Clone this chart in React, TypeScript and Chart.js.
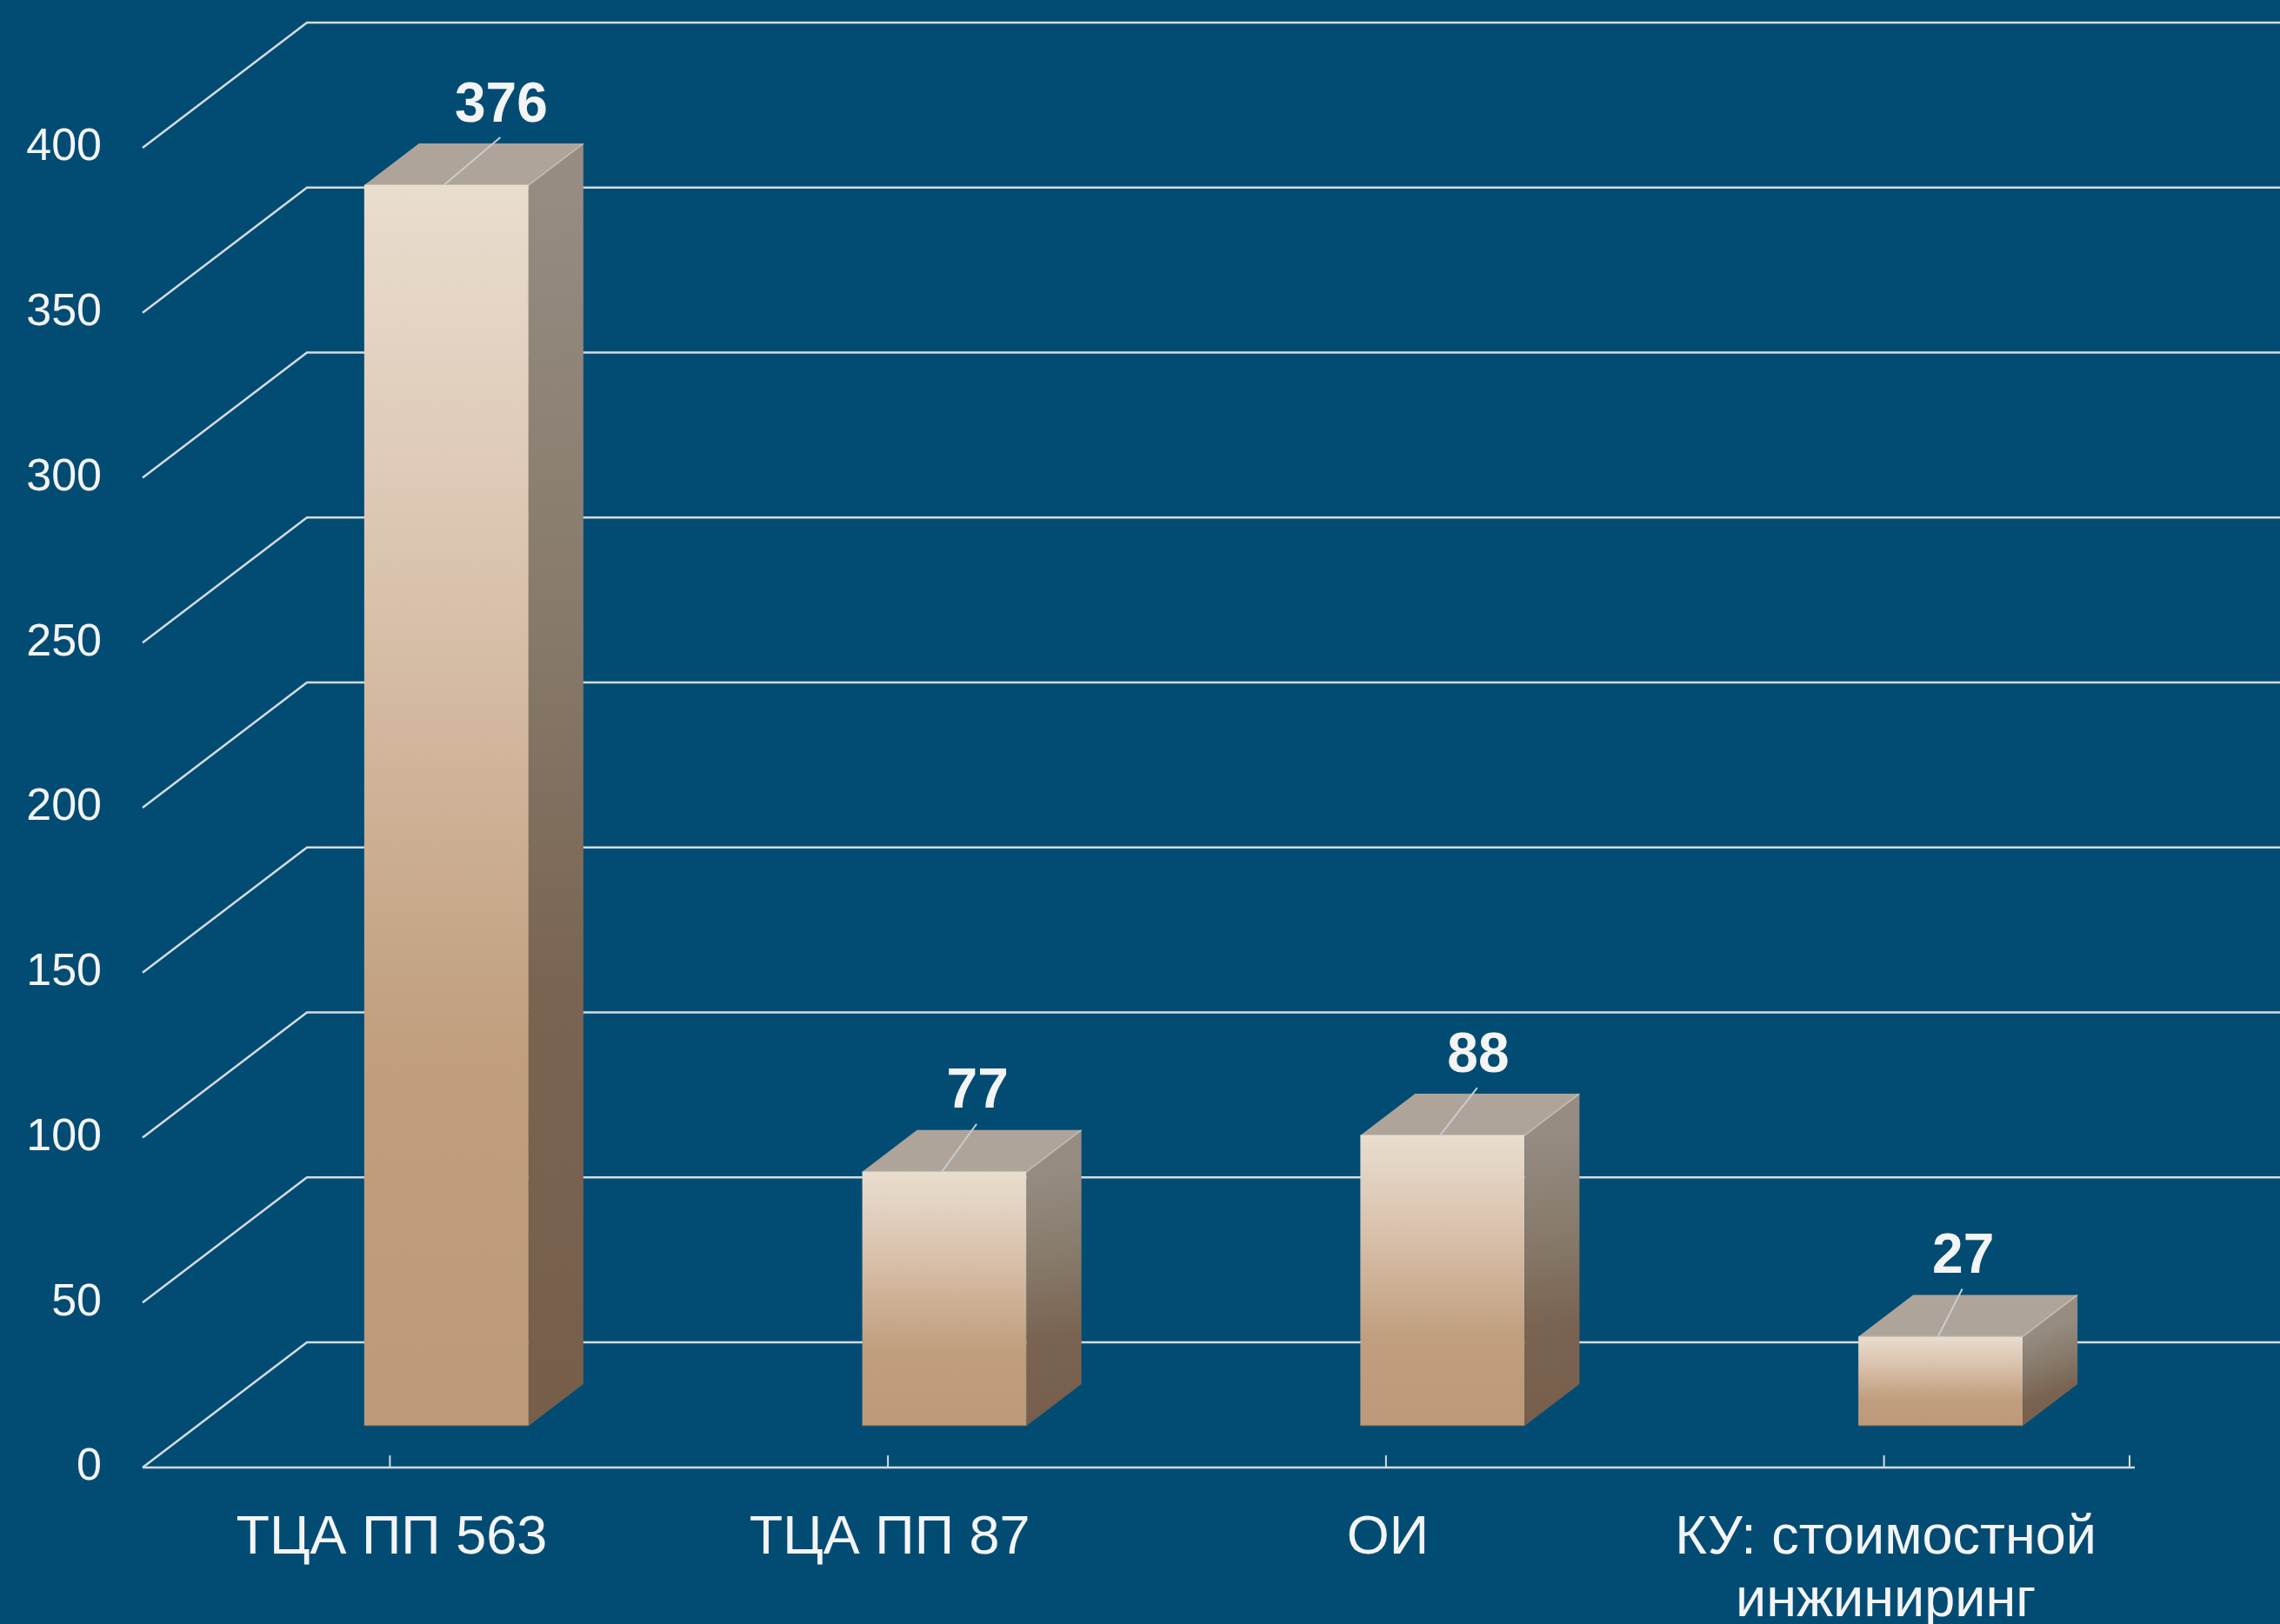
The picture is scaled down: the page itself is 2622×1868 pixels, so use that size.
import React, { useEffect, useRef } from 'react';
import { Chart, registerables } from 'chart.js';

Chart.register(...registerables);

// ---- data ----
const categories: (string | string[])[] = [
  'ТЦА ПП 563',
  'ТЦА ПП 87',
  'ОИ',
  ['КУ: стоимостной', 'инжиниринг'],
];
const values: number[] = [376, 77, 88, 27];
const yMin = 0;
const yMax = 400;
const yStep = 50;

// ---- layout / style ----
const WIDTH = 2622;
const HEIGHT = 1868;
const PLOT_LEFT = 164;
const PLOT_RIGHT = 2455;
const PLOT_TOP = 170;
const PLOT_BOTTOM = 1688;
const DEPTH_X = 189;
const DEPTH_Y = -144;
const BG = '#024c74';
const GRID = '#d6dbe0';
const TEXT = '#f4f4f4';
const FONT = "'Liberation Sans', Arial, Helvetica, sans-serif";
const LABEL_SHIFT = [63, 38, 41, 26];

const frontFill = (c: any) => {
  const chart = c.chart;
  const ys = chart.scales && chart.scales.y;
  if (!ys || typeof c.raw !== 'number') return '#c9ab8c';
  const top = ys.getPixelForValue(c.raw);
  const bot = ys.getPixelForValue(0);
  if (!Number.isFinite(top) || !Number.isFinite(bot) || top === bot) return '#c9ab8c';
  const g = chart.ctx.createLinearGradient(0, top, 0, bot);
  g.addColorStop(0, '#e9ddce');
  g.addColorStop(0.28, '#dcc6b2');
  g.addColorStop(0.5, '#ceb196');
  g.addColorStop(0.7, '#c09e7e');
  g.addColorStop(1, '#bc9a79');
  return g;
};

const threeD = {
  id: 'threeD',
  beforeDraw(chart: any) {
    const { ctx } = chart;
    ctx.save();
    ctx.fillStyle = BG;
    ctx.fillRect(0, 0, chart.width, chart.height);
    ctx.restore();
  },
  beforeDatasetsDraw(chart: any) {
    const { ctx, chartArea } = chart;
    const xs = chart.scales.x;
    const ys = chart.scales.y;
    ctx.save();
    ctx.strokeStyle = GRID;
    ctx.lineWidth = 2.5;
    ctx.lineJoin = 'miter';
    ys.ticks.forEach((t: any) => {
      const py = ys.getPixelForValue(t.value);
      ctx.beginPath();
      ctx.moveTo(chartArea.left, py);
      ctx.lineTo(chartArea.left + DEPTH_X, py + DEPTH_Y);
      ctx.lineTo(chart.width + 10, py + DEPTH_Y);
      ctx.stroke();
    });
    const p0 = ys.getPixelForValue(0);
    ctx.beginPath();
    ctx.moveTo(chartArea.left, p0);
    ctx.lineTo(chartArea.right, p0);
    ctx.stroke();
    ctx.lineWidth = 2;
    const tickXs: number[] = categories.map((_, i) => xs.getPixelForValue(i) - 2);
    tickXs.push(chartArea.right - 6);
    tickXs.forEach((px) => {
      ctx.beginPath();
      ctx.moveTo(px, p0);
      ctx.lineTo(px, p0 - 14);
      ctx.stroke();
    });
    ctx.restore();
  },
  beforeDatasetDraw(chart: any) {
    chart.ctx.save();
    chart.ctx.translate(DEPTH_X / 3, DEPTH_Y / 3);
  },
  afterDatasetDraw(chart: any, args: any) {
    const { ctx } = chart;
    ctx.restore();
    const d = DEPTH_X / 3;
    const e = DEPTH_Y / 3;
    args.meta.data.forEach((el: any) => {
      const xl = el.x - el.width / 2 + d;
      const xr = el.x + el.width / 2 + d;
      const yt = el.y + e;
      const yb = el.base + e;
      if (![xl, xr, yt, yb].every(Number.isFinite)) return;
      // side face
      const sg = ctx.createLinearGradient(xr, yt, xr + d * 0.6, yb);
      sg.addColorStop(0, '#968c82');
      sg.addColorStop(0.35, '#877a6b');
      sg.addColorStop(0.65, '#7a6451');
      sg.addColorStop(1, '#765e4b');
      ctx.fillStyle = sg;
      ctx.beginPath();
      ctx.moveTo(xr, yt);
      ctx.lineTo(xr + d, yt + e);
      ctx.lineTo(xr + d, yb + e);
      ctx.lineTo(xr, yb);
      ctx.closePath();
      ctx.fill();
      // top face
      ctx.fillStyle = '#aea49a';
      ctx.beginPath();
      ctx.moveTo(xl, yt);
      ctx.lineTo(xr, yt);
      ctx.lineTo(xr + d, yt + e);
      ctx.lineTo(xl + d, yt + e);
      ctx.closePath();
      ctx.fill();
      // subtle edges
      ctx.strokeStyle = 'rgba(240,228,214,0.55)';
      ctx.lineWidth = 1.5;
      ctx.beginPath();
      ctx.moveTo(xl, yt);
      ctx.lineTo(xr, yt);
      ctx.lineTo(xr + d, yt + e);
      ctx.stroke();
      ctx.strokeStyle = 'rgba(110,85,65,0.6)';
      ctx.beginPath();
      ctx.moveTo(xl, yb);
      ctx.lineTo(xr, yb);
      ctx.stroke();
    });
  },
  afterDatasetsDraw(chart: any) {
    const { ctx } = chart;
    const meta = chart.getDatasetMeta(0);
    const d = DEPTH_X / 3;
    const e = DEPTH_Y / 3;
    ctx.save();
    meta.data.forEach((el: any, i: number) => {
      const fx = el.x + d;
      const ft = el.y + e;
      const lx = fx + LABEL_SHIFT[i];
      const ly = ft - 91;
      ctx.strokeStyle = '#c9cdd0';
      ctx.lineWidth = 2;
      ctx.beginPath();
      ctx.moveTo(fx - 3, ft);
      ctx.lineTo(lx - 1, ly + 36);
      ctx.stroke();
      ctx.fillStyle = TEXT;
      ctx.font = `bold 64px ${FONT}`;
      ctx.textAlign = 'center';
      ctx.textBaseline = 'middle';
      ctx.fillText(String(values[i]), lx, ly);
    });
    ctx.restore();
  },
};

export default function App() {
  const ref = useRef<HTMLCanvasElement | null>(null);

  useEffect(() => {
    document.body.style.margin = '0';
    document.body.style.background = BG;
    const canvas = ref.current;
    if (!canvas) return;
    const chart = new Chart(canvas, {
      type: 'bar',
      data: {
        labels: categories as any,
        datasets: [
          {
            data: values,
            backgroundColor: frontFill as any,
            borderWidth: 0,
            categoryPercentage: 1,
            barPercentage: 0.33,
            clip: false as any,
          },
        ],
      },
      options: {
        responsive: false,
        animation: false,
        devicePixelRatio: 1,
        layout: { padding: { top: PLOT_TOP, right: WIDTH - PLOT_RIGHT, left: 0, bottom: 0 } },
        plugins: { legend: { display: false }, tooltip: { enabled: false } },
        scales: {
          x: {
            grid: { display: false, drawTicks: false },
            border: { display: false },
            ticks: {
              color: TEXT,
              font: { family: FONT, size: 63, lineHeight: 1.15 },
              padding: 45,
              maxRotation: 0,
              minRotation: 0,
              autoSkip: false,
            },
            afterFit: (s: any) => {
              s.height = HEIGHT - PLOT_BOTTOM;
            },
          },
          y: {
            min: yMin,
            max: yMax,
            grid: { display: false, drawTicks: false },
            border: { display: false },
            ticks: {
              stepSize: yStep,
              color: TEXT,
              font: { family: FONT, size: 52 },
              padding: 47,
            },
            afterFit: (s: any) => {
              s.width = PLOT_LEFT;
            },
          },
        },
      } as any,
      plugins: [threeD as any],
    });
    return () => chart.destroy();
  }, []);

  return (
    <div style={{ position: 'fixed', left: 0, top: 0, width: WIDTH, height: HEIGHT, background: BG }}>
      <canvas ref={ref} width={WIDTH} height={HEIGHT} style={{ display: 'block', width: WIDTH, height: HEIGHT }} />
    </div>
  );
}
